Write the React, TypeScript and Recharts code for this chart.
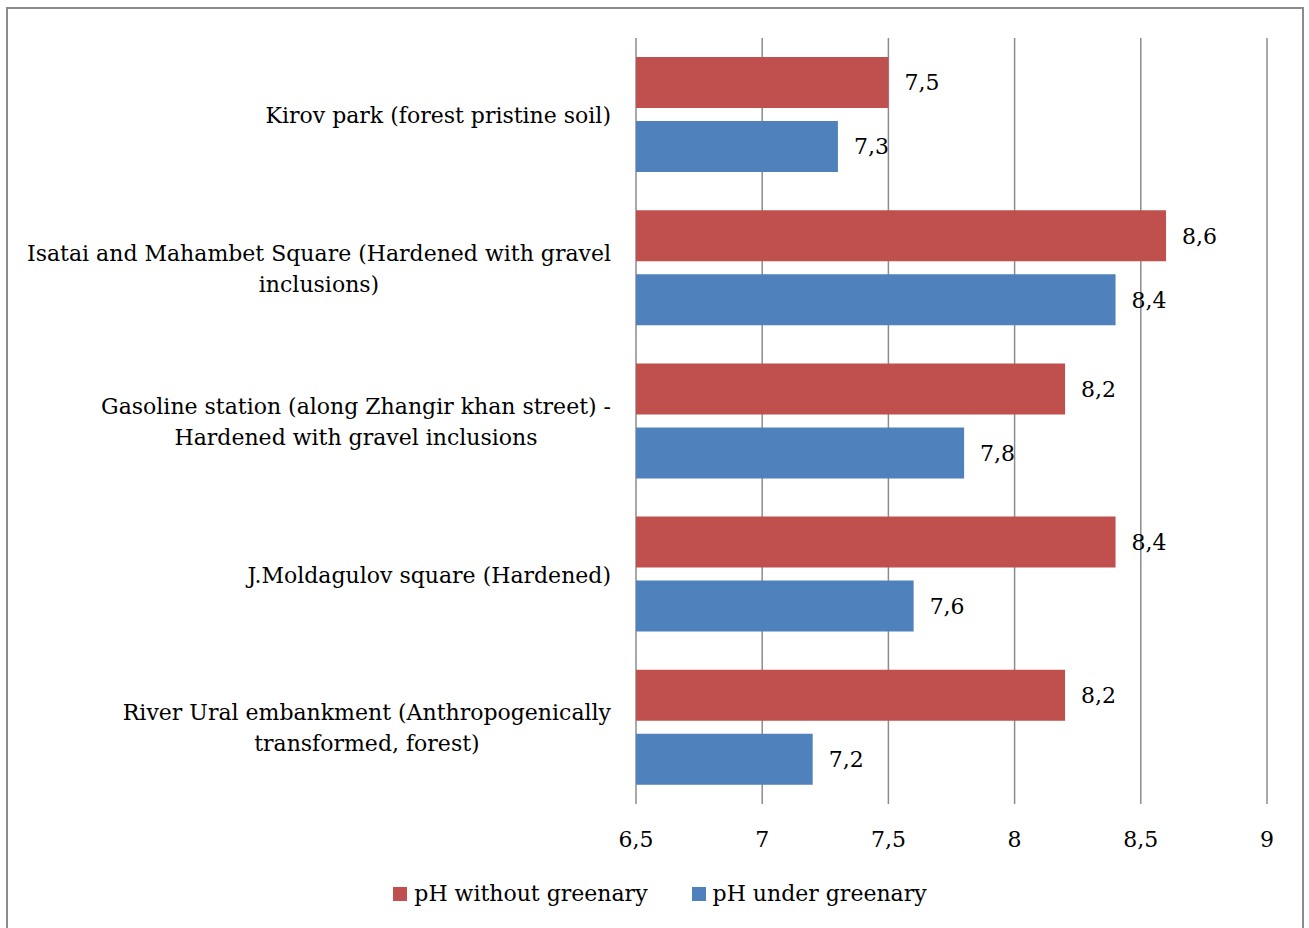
import React from "react";
import { BarChart, Bar, XAxis, YAxis, CartesianGrid, Legend, LabelList } from "recharts";

const categories = [
  "Kirov park (forest pristine soil)",
  "Isatai and Mahambet Square (Hardened with gravel inclusions)",
  "Gasoline station (along Zhangir khan street) - Hardened with gravel inclusions",
  "J.Moldagulov square (Hardened)",
  "River Ural embankment (Anthropogenically transformed, forest)",
];
const phWithout = [7.5, 8.6, 8.2, 8.4, 8.2];
const phUnder = [7.3, 8.4, 7.8, 7.6, 7.2];
const xTicks = [6.5, 7, 7.5, 8, 8.5, 9];
const seriesNames = ["pH without greenary", "pH under greenary"];
const seriesColors = ["#C0504D", "#4F81BD"];

const data = categories.map((name, i) => ({ name, without: phWithout[i], under: phUnder[i] }));

const FONT = '"DejaVu Serif", serif';
const FS = 22;
const fmt = (v: any) => String(v).replace(".", ",");

let ctx: CanvasRenderingContext2D | null = null;
const measure = (s: string) => {
  if (!ctx) ctx = document.createElement("canvas").getContext("2d");
  if (!ctx) return s.length * FS * 0.55;
  ctx.font = `${FS}px "DejaVu Serif"`;
  return ctx.measureText(s).width;
};

const wrap = (text: string, maxW: number) => {
  const words = text.split(" ");
  const lines: string[] = [];
  let cur = "";
  for (const w of words) {
    const t = cur ? cur + " " + w : w;
    if (measure(t) > maxW && cur) {
      lines.push(cur);
      cur = w;
    } else cur = t;
  }
  if (cur) lines.push(cur);
  return lines;
};

const YTick = (props: any) => {
  const { x, y, payload } = props;
  const lines = wrap(String(payload.value), 590);
  const widths = lines.map(measure);
  const maxW = Math.max(...widths);
  const cx = x - maxW / 2;
  const lh = 31;
  const startY = y + 1 - ((lines.length - 1) * lh) / 2;
  return (
    <g>
      {lines.map((l, i) => (
        <text key={i} x={cx} y={startY + i * lh} textAnchor="middle" dominantBaseline="central" fontFamily={FONT} fontSize={FS} fill="#000">
          {l}
        </text>
      ))}
    </g>
  );
};

const LegendContent = () => (
  <div style={{ display: "flex", justifyContent: "center", alignItems: "center", height: 65, paddingTop: 16, paddingLeft: 53, boxSizing: "border-box", fontFamily: FONT, fontSize: FS, color: "#000" }}>
    {seriesNames.map((n, i) => (
      <div key={n} style={{ display: "flex", alignItems: "center", marginLeft: i === 0 ? 0 : 44 }}>
        <span style={{ display: "inline-block", width: 14, height: 14, background: seriesColors[i], marginRight: 7 }} />
        <span>{n}</span>
      </div>
    ))}
  </div>
);

export default function App() {
  return (
    <div style={{ position: "absolute", left: 0, top: 0, width: 1309, height: 928, overflow: "hidden", background: "#fff" }}>
      <div style={{ position: "absolute", left: 6, top: 7, width: 1298, height: 940, border: "2px solid #8c8c8c", boxSizing: "border-box" }} />
      <div style={{ position: "absolute", left: 0, top: 0 }}>
        <BarChart
          width={1309}
          height={928}
          data={data}
          layout="vertical"
          margin={{ top: 38, right: 42, left: 0, bottom: 10 }}
          barSize={51}
          barGap={13}
        >
          <CartesianGrid horizontal={false} vertical={true} stroke="#8c8c8c" strokeWidth={1.5} />
          <XAxis
            type="number"
            domain={[6.5, 9]}
            ticks={xTicks}
            tickFormatter={fmt}
            axisLine={false}
            tickLine={false}
            tickSize={0}
            tickMargin={27}
            height={49}
            tick={{ fontFamily: FONT, fontSize: FS, fill: "#000" }}
            interval={0}
          />
          <YAxis
            type="category"
            dataKey="name"
            width={636}
            axisLine={false}
            tickLine={false}
            tickSize={0}
            tickMargin={25}
            tick={<YTick />}
            interval={0}
          />
          <Legend verticalAlign="bottom" height={65} content={<LegendContent />} />
          <Bar dataKey="without" name={seriesNames[0]} fill={seriesColors[0]} isAnimationActive={false}>
            <LabelList dataKey="without" position="right" offset={16} formatter={fmt} style={{ fontFamily: FONT, fontSize: FS, fill: "#000" }} />
          </Bar>
          <Bar dataKey="under" name={seriesNames[1]} fill={seriesColors[1]} isAnimationActive={false}>
            <LabelList dataKey="under" position="right" offset={16} formatter={fmt} style={{ fontFamily: FONT, fontSize: FS, fill: "#000" }} />
          </Bar>
        </BarChart>
      </div>
    </div>
  );
}
